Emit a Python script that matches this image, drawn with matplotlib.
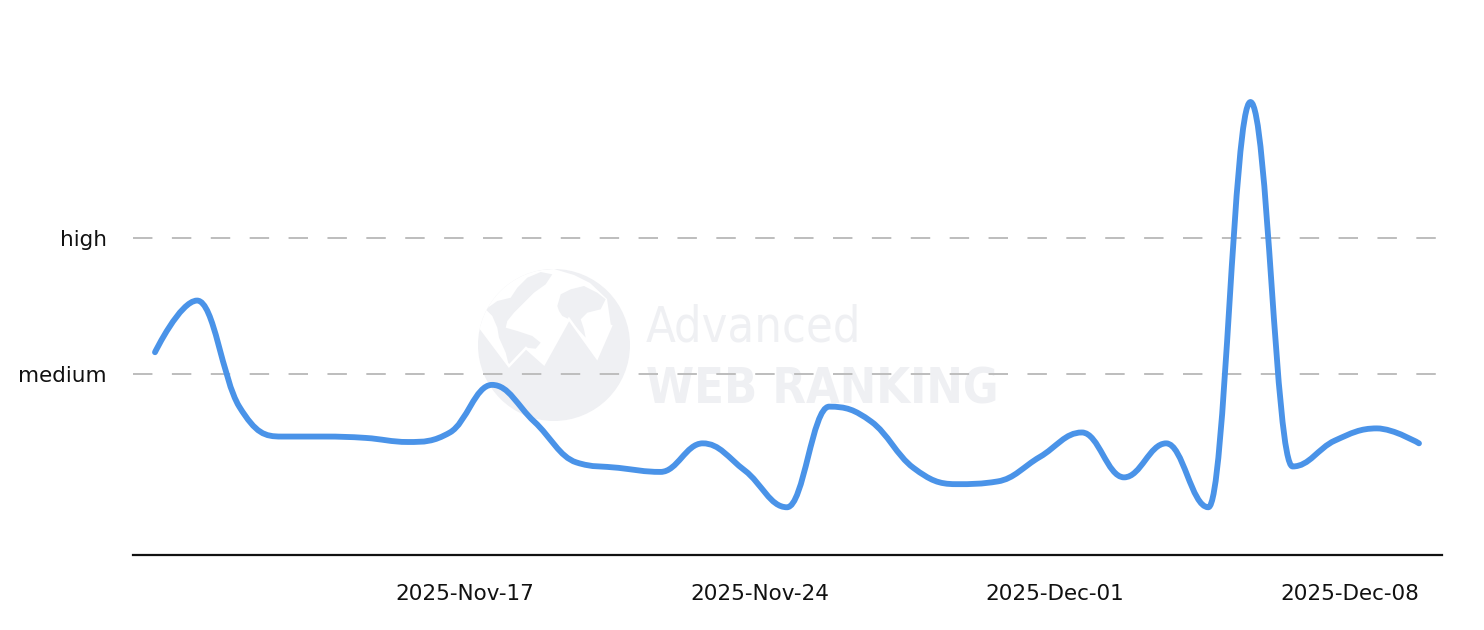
import numpy as np
import pandas as pd
import matplotlib
matplotlib.use("Agg")
import matplotlib.pyplot as plt
import matplotlib.dates as mdates
from matplotlib.path import Path
from matplotlib.patches import PathPatch, Circle, Polygon
from matplotlib import font_manager as fm

# ---------------- data ----------------
dates = pd.date_range("2025-11-09 15:30", periods=31, freq="D")
values = [1.16, 1.54, 0.76, 0.54, 0.54, 0.53, 0.50, 0.57, 0.92, 0.65,
          0.35, 0.31, 0.28, 0.49, 0.29, 0.02, 0.76, 0.65, 0.31, 0.19,
          0.21, 0.39, 0.57, 0.24, 0.49, 0.02, 3.00, 0.32, 0.51, 0.60,
          0.49]
level_values = [1, 2]
level_labels = ["medium", "high"]
tick_dates = ["2025-11-17", "2025-11-24", "2025-12-01", "2025-12-08"]

LINE_COLOR = "#4A93E8"
GRID_COLOR = "#BDBDBD"
WM_COLOR = "#EFF0F3"

W, H = 1484, 630
fig = plt.figure(figsize=(W / 100, H / 100), dpi=100)
fig.patch.set_facecolor("white")

# ---------------- watermark (pixel coordinates) ----------------
bg = fig.add_axes([0, 0, 1, 1], zorder=0)
bg.set_xlim(0, W)
bg.set_ylim(H, 0)
bg.axis("off")

globe = Circle((554, 345), 76, facecolor=WM_COLOR, edgecolor="none")
bg.add_patch(globe)
zig_x = [479, 509, 526, 544, 569, 597, 611]
zig_y = [326, 366, 348, 364, 319, 358, 326]
sky = Polygon(list(zip(zig_x, zig_y)) + [(607, 299), (590, 283), (574, 275),
                                         (554, 269), (530, 271), (507, 279),
                                         (484, 306)],
              closed=True, facecolor="white", edgecolor="none")
bg.add_patch(sky)
sky.set_clip_path(globe)
americas = Polygon([(485.7, 309.3), (497.3, 301), (510.7, 297.7), (517.3, 287.7),
                    (527.3, 277.7), (540.7, 272), (552.3, 274.3), (545.7, 284.3),
                    (534, 292.7), (524, 302.7), (514, 312.7), (507.3, 321),
                    (505.7, 327.7), (517.3, 331), (532.3, 336), (540.7, 342.7),
                    (535.7, 348.7), (525.7, 347.7), (515.7, 357.7), (509, 366),
                    (505.7, 352.7), (499, 337.7), (497.3, 327.7), (492.3, 316)],
                   closed=True, facecolor=WM_COLOR, edgecolor="none")
bg.add_patch(americas)
americas.set_clip_path(globe)
afreur = Polygon([(557.3, 306), (560.7, 294.3), (570.7, 289.3), (584, 286),
                  (597.3, 292.7), (605.7, 299.3), (600.7, 309.3), (587.3, 312.7),
                  (580.7, 319.3), (584, 329.3), (585.7, 337.7), (569, 319.3),
                  (562.3, 316), (559, 311)],
                 closed=True, facecolor=WM_COLOR, edgecolor="none")
bg.add_patch(afreur)
afreur.set_clip_path(globe)
zz = bg.plot(zig_x, zig_y, color="white", lw=1.8, solid_joinstyle="miter")[0]
zz.set_clip_path(globe)

# pick a condensed face if one is installed
cond = None
for f in fm.fontManager.ttflist:
    if ("Condensed" in f.name or "Narrow" in f.name or
            str(f.stretch) in ("condensed", "semi-condensed", "extra-condensed")):
        cond = f
        break
fam = cond.name if cond else "DejaVu Sans"
stretch = cond.stretch if cond else "normal"

t1 = bg.text(646, 341, "Advanced", color=WM_COLOR, fontsize=40, family=fam,
             fontstretch=stretch, ha="left", va="baseline")
t2 = bg.text(646, 404, "WEB RANKING", color=WM_COLOR, fontsize=40, family=fam,
             fontstretch=stretch, fontweight="bold", ha="left", va="baseline")
renderer = fig.canvas.get_renderer()
for t, target in ((t1, 215), (t2, 353)):
    wdt = t.get_window_extent(renderer).width
    t.set_fontsize(40 * target / wdt)

# ---------------- main axes ----------------
left, right, bottom_px, top_px = 133, 1442, 555, 60
ax = fig.add_axes([left / W, (H - bottom_px) / H, (right - left) / W,
                   (bottom_px - top_px) / H], zorder=1)
ax.patch.set_alpha(0)

xnum = mdates.date2num(dates.to_pydatetime())
ys = np.asarray(values, dtype=float)


def spline_path(xs, ys):
    """Highcharts-style spline: cubic Bezier through the data points."""
    n = len(xs)
    sm, den = 1.5, 2.5
    lc = [(xs[i], ys[i]) for i in range(n)]
    rc = [(xs[i], ys[i]) for i in range(n)]
    for i in range(1, n - 1):
        px, py = xs[i], ys[i]
        lx, ly = xs[i - 1], ys[i - 1]
        nx, ny = xs[i + 1], ys[i + 1]
        lcx = (sm * px + lx) / den
        lcy = (sm * py + ly) / den
        rcx = (sm * px + nx) / den
        rcy = (sm * py + ny) / den
        corr = (rcy - lcy) * (rcx - px) / (rcx - lcx) + py - rcy
        lcy += corr
        rcy += corr
        if lcy > ly and lcy > py:
            lcy = max(ly, py); rcy = 2 * py - lcy
        elif lcy < ly and lcy < py:
            lcy = min(ly, py); rcy = 2 * py - lcy
        if rcy > ny and rcy > py:
            rcy = max(ny, py); lcy = 2 * py - rcy
        elif rcy < ny and rcy < py:
            rcy = min(ny, py); lcy = 2 * py - rcy
        lc[i] = (lcx, lcy)
        rc[i] = (rcx, rcy)
    verts = [(xs[0], ys[0])]
    codes = [Path.MOVETO]
    for i in range(1, n):
        verts += [rc[i - 1], lc[i], (xs[i], ys[i])]
        codes += [Path.CURVE4] * 3
    return Path(verts, codes)


path = spline_path(xnum, ys)
ax.add_patch(PathPatch(path, facecolor="none", edgecolor=LINE_COLOR, lw=4.2,
                       capstyle="round", joinstyle="round", zorder=3))

ax.set_xlim(xnum[0] - 0.522, xnum[-1] + 0.546)
ax.set_ylim(-0.331, 3.309)

for v in level_values:
    ax.axhline(v, color=GRID_COLOR, lw=1.4, linestyle=(0, (10, 10)), zorder=1)

ax.set_yticks(level_values)
ax.set_yticklabels(level_labels)
ax.set_xticks(mdates.date2num(pd.to_datetime(tick_dates).to_pydatetime()))
ax.xaxis.set_major_formatter(mdates.DateFormatter("%Y-%b-%d"))

ax.tick_params(axis="both", length=0, labelsize=15.5, colors="#111111")
ax.tick_params(axis="x", pad=21)
ax.tick_params(axis="y", pad=19)

for s in ("top", "right", "left"):
    ax.spines[s].set_visible(False)
ax.spines["bottom"].set_color("#111111")
ax.spines["bottom"].set_linewidth(1.6)

fig.savefig("out.png", dpi=100, facecolor="white")
